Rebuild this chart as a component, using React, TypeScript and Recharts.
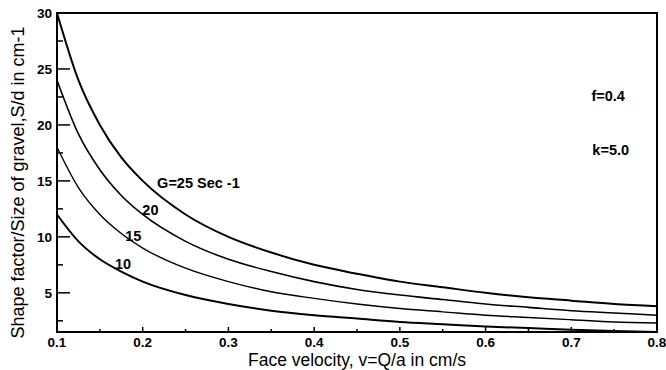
import React from 'react'
import {
  LineChart, Line, XAxis, YAxis, ReferenceArea, ReferenceDot,
} from 'recharts'

// face velocity v (cm/s)
const velocity = [0.1, 0.125, 0.15, 0.175, 0.2, 0.25, 0.3, 0.35, 0.4, 0.45, 0.5, 0.55, 0.6, 0.65, 0.7, 0.75, 0.8]

// S/d, one list per G
const g25 = [30, 24, 20, 17.1, 15, 12, 10, 8.6, 7.5, 6.7, 6.0, 5.5, 5.0, 4.6, 4.3, 4.0, 3.8]
const g20 = [24, 19.2, 16, 13.7, 12, 9.6, 8, 6.9, 6, 5.3, 4.8, 4.4, 4.0, 3.7, 3.4, 3.2, 3.0]
const g15 = [18, 14.4, 12, 10.3, 9, 7.2, 6, 5.1, 4.5, 4.0, 3.6, 3.3, 3.0, 2.8, 2.6, 2.4, 2.3]
const g10 = [12, 9.6, 8, 6.9, 6, 4.8, 4, 3.4, 3.0, 2.7, 2.4, 2.2, 2.0, 1.85, 1.7, 1.6, 1.5]

const xTicks = [0.1, 0.15, 0.2, 0.25, 0.3, 0.35, 0.4, 0.45, 0.5, 0.55, 0.6, 0.65, 0.7, 0.75, 0.8]
const xLabels = [0.1, 0.2, 0.3, 0.4, 0.5, 0.6, 0.7, 0.8]
const yTicks = [2.5, 5, 7.5, 10, 12.5, 15, 17.5, 20, 22.5, 25, 27.5, 30]
const yLabels = [5, 10, 15, 20, 25, 30]

// curve labels: [text, v, S/d]
const curveNotes: [string, number, number][] = [
  ['G=25 Sec -1', 0.265, 14.8],
  ['20', 0.209, 12.4],
  ['15', 0.189, 10.1],
  ['10', 0.177, 7.6],
  ['f=0.4', 0.743, 22.6],
  ['k=5.0', 0.746, 17.8],
]

const data = velocity.map((v, i) => ({ v, g25: g25[i], g20: g20[i], g15: g15[i], g10: g10[i] }))

const font = '"Liberation Sans", Arial, sans-serif'
const near = (a: number, list: number[]) => list.some(b => Math.abs(a - b) < 1e-6)

function YTick({ x, y, payload }: any) {
  const major = near(payload.value, yLabels)
  return (
    <g>
      <line x1={x} x2={x + (major ? 13 : 6)} y1={y} y2={y} stroke="#000" strokeWidth={1.5} />
      {major && (
        <text x={x - 5} y={y} dy={5} textAnchor="end" fontSize={13.5} fontWeight="bold" fontFamily={font} fill="#000">
          {payload.value}
        </text>
      )}
    </g>
  )
}

function XTick({ x, y, payload }: any) {
  const major = near(payload.value, xLabels)
  return (
    <g>
      <line x1={x} x2={x} y1={y} y2={y - (major ? 5 : 3)} stroke="#000" strokeWidth={1.5} />
      {major && (
        <text x={x} y={y} dy={15} textAnchor="middle" fontSize={13.5} fontWeight="bold" fontFamily={font} fill="#000">
          {payload.value}
        </text>
      )}
    </g>
  )
}

function YTitle({ viewBox }: any) {
  const cx = viewBox.x + 18
  const cy = viewBox.y + viewBox.height / 2 + 10
  return (
    <text
      x={cx}
      y={cy}
      transform={`rotate(-90 ${cx} ${cy})`}
      textAnchor="middle"
      dominantBaseline="central"
      fontSize={18}
      fontFamily={font}
      fill="#000"
    >
      Shape factor/Size of gravel,S/d in cm-1
    </text>
  )
}

export default function App() {
  return (
    <div style={{ position: 'absolute', left: 0, top: 0, background: '#fff' }}>
      <LineChart width={666} height={370} data={data} margin={{ top: 13, right: 9, bottom: 0, left: 0 }}>
        <XAxis
          dataKey="v"
          type="number"
          domain={[0.1, 0.8]}
          ticks={xTicks}
          interval={0}
          tick={<XTick />}
          tickLine={false}
          tickSize={0}
          tickMargin={0}
          height={38}
          axisLine={{ stroke: '#000', strokeWidth: 2 }}
          label={{
            value: 'Face velocity, v=Q/a in cm/s',
            position: 'insideBottom',
            offset: 4,
            style: { fontSize: 17.5, fontFamily: font, fill: '#000' },
          }}
        />
        <YAxis
          type="number"
          domain={[1.5, 30]}
          allowDataOverflow
          ticks={yTicks}
          interval={0}
          tick={<YTick />}
          tickLine={false}
          tickSize={0}
          tickMargin={0}
          width={57}
          axisLine={{ stroke: '#000', strokeWidth: 2 }}
          label={{ content: (p: any) => <YTitle {...p} /> }}
        />
        <ReferenceArea x1={0.1} x2={0.8} y1={1.5} y2={30} fill="none" stroke="#000" strokeWidth={2} ifOverflow="visible" />
        <Line type="monotone" dataKey="g25" stroke="#000" strokeWidth={2} dot={false} isAnimationActive={false} />
        <Line type="monotone" dataKey="g20" stroke="#000" strokeWidth={1.6} dot={false} isAnimationActive={false} />
        <Line type="monotone" dataKey="g15" stroke="#000" strokeWidth={1.4} dot={false} isAnimationActive={false} />
        <Line type="monotone" dataKey="g10" stroke="#000" strokeWidth={2} dot={false} isAnimationActive={false} />
        {curveNotes.map(([text, v, s]) => (
          <ReferenceDot
            key={text}
            x={v}
            y={s}
            r={0}
            fill="none"
            stroke="none"
            label={{
              value: text,
              position: 'center',
              style: { fontSize: 14.5, fontWeight: 'bold', fontFamily: font, fill: '#000' },
            }}
          />
        ))}
      </LineChart>
    </div>
  )
}
